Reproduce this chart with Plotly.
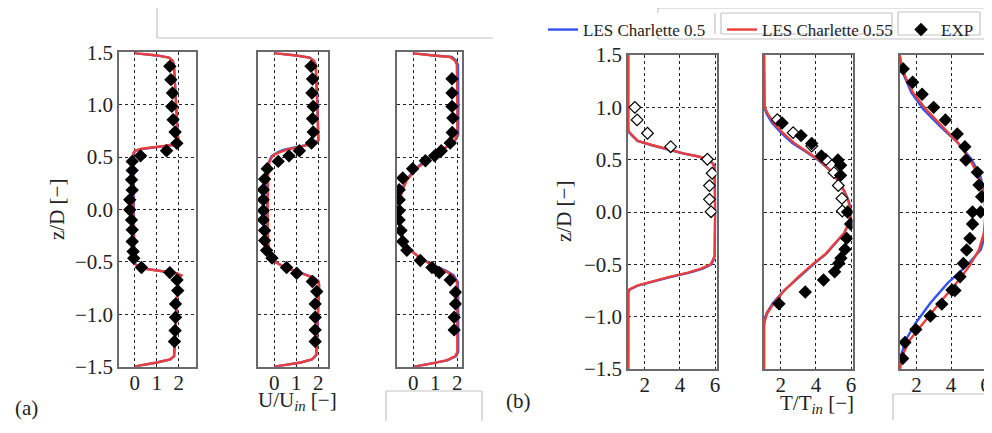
import plotly.graph_objects as go

# ---------------- data ----------------
Z_TICKS = [-1.5, -1.0, -0.5, 0.0, 0.5, 1.0, 1.5]
U_TICKS = [0, 1, 2]
T_TICKS = [2, 4, 6]
U_RANGES = [[-0.72, 2.77], [-0.74, 2.45], [-0.74, 2.2]]
T_RANGE = [1.04, 6.08]
Z_RANGE = [-1.5, 1.5]

LEGEND_NAMES = ["LES Charlette 0.5", "LES Charlette 0.55", "EXP"]

# panel 1 (velocity, station 1)
p1_z = [1.50, 1.49, 1.47, 1.45, 1.42, 1.38, 1.20, 1.00, 0.80, 0.66, 0.63, 0.615, 0.60, 0.58, 0.56, 0.53, 0.45, 0.00,
        -0.45, -0.52, -0.55, -0.57, -0.59, -0.61, -0.63, -0.66, -0.80, -1.00, -1.20, -1.40, -1.43, -1.46, -1.49, -1.50]
p1_red = [0.00, 0.10, 1.00, 1.55, 1.72, 1.77, 1.82, 1.86, 1.92, 1.97, 1.98, 1.70, 1.00, 0.30, 0.00, -0.08, -0.10, -0.08,
          -0.04, 0.00, 0.15, 0.60, 1.30, 1.90, 2.12, 1.98, 1.92, 1.88, 1.84, 1.78, 1.60, 1.00, 0.20, 0.00]
p1_blue = [0.00, 0.10, 1.00, 1.55, 1.72, 1.78, 1.83, 1.87, 1.93, 1.98, 1.99, 1.75, 1.10, 0.40, 0.02, -0.06, -0.08, -0.06,
           -0.02, 0.02, 0.18, 0.65, 1.35, 1.92, 2.10, 1.99, 1.93, 1.89, 1.85, 1.79, 1.62, 1.00, 0.20, 0.00]
p1_exp_z = [1.366, 1.239, 1.111, 0.984, 0.857, 0.739, 0.631, 0.561, 0.512, 0.459, 0.373, 0.284, 0.185, 0.093, -0.003,
            -0.099, -0.194, -0.306, -0.401, -0.465, -0.554, -0.602, -0.672, -0.774, -0.901, -1.028, -1.155, -1.26]
p1_exp_u = [1.59, 1.64, 1.71, 1.68, 1.74, 1.83, 1.91, 1.44, 0.26, -0.12, -0.12, -0.15, -0.12, -0.23, -0.23,
            -0.15, -0.12, -0.12, -0.08, -0.05, 0.30, 1.59, 1.92, 1.95, 1.85, 1.85, 1.83, 1.80]

# panel 2 (velocity, station 2)
p2_z = [1.50, 1.49, 1.47, 1.45, 1.42, 1.38, 1.00, 0.70, 0.66, 0.63, 0.61, 0.59, 0.57, 0.55, 0.53, 0.51, 0.45, 0.35, 0.00,
        -0.30, -0.40, -0.46, -0.50, -0.53, -0.56, -0.59, -0.62, -0.65, -0.68, -0.72, -1.00, -1.30, -1.39, -1.43, -1.46,
        -1.48, -1.50]
p2_red = [0.00, 0.10, 1.00, 1.60, 1.80, 1.88, 1.95, 2.00, 2.00, 1.85, 1.40, 0.90, 0.55, 0.30, 0.05, -0.08, -0.22, -0.28,
          -0.30, -0.28, -0.22, -0.10, 0.05, 0.30, 0.60, 1.00, 1.35, 1.75, 1.98, 2.03, 1.98, 1.93, 1.90, 1.70, 1.20, 0.60,
          0.00]
p2_blue = [0.00, 0.10, 1.00, 1.60, 1.80, 1.89, 1.96, 2.01, 2.01, 1.80, 1.30, 0.80, 0.45, 0.20, 0.00, -0.12, -0.25,
           -0.31, -0.32, -0.30, -0.24, -0.12, 0.03, 0.28, 0.60, 1.02, 1.40, 1.80, 2.00, 2.04, 1.99, 1.94, 1.91, 1.72,
           1.20, 0.60, 0.00]
p2_exp_z = [1.366, 1.245, 1.111, 0.984, 0.866, 0.739, 0.634, 0.561, 0.512, 0.459, 0.389, 0.29, 0.188, 0.093, -0.01,
            -0.099, -0.2, -0.296, -0.39, -0.464, -0.554, -0.608, -0.687, -0.783, -0.901, -1.028, -1.149, -1.26]
p2_exp_u = [1.67, 1.74, 1.71, 1.77, 1.74, 1.77, 1.69, 1.14, 0.67, 0.18, -0.32, -0.44, -0.50, -0.50, -0.50,
            -0.50, -0.44, -0.44, -0.35, -0.10, 0.56, 1.02, 1.73, 1.93, 1.86, 1.86, 1.86, 1.86]

# panel 3 (velocity, station 3)
p3_z = [1.50, 1.49, 1.47, 1.455, 1.42, 1.38, 1.00, 0.71, 0.65, 0.60, 0.54, 0.47, 0.395, 0.28, 0.17, 0.06, -0.05, -0.18,
        -0.29, -0.385, -0.465, -0.53, -0.58, -0.625, -0.69, -0.80, -1.36, -1.40, -1.44, -1.47, -1.50]
p3_red = [0.00, 0.05, 0.90, 1.68, 1.90, 1.98, 2.00, 2.00, 1.86, 1.53, 1.08, 0.62, 0.17, -0.29, -0.52, -0.62, -0.64,
          -0.59, -0.44, -0.14, 0.32, 0.85, 1.38, 1.76, 1.98, 2.00, 2.00, 1.90, 1.50, 0.80, 0.05]
p3_blue = [0.00, 0.05, 0.95, 1.75, 1.95, 2.03, 2.05, 2.04, 1.88, 1.52, 1.05, 0.58, 0.13, -0.33, -0.55, -0.64, -0.66,
           -0.61, -0.46, -0.15, 0.33, 0.90, 1.45, 1.82, 2.02, 2.04, 2.04, 1.95, 1.55, 0.80, 0.05]
p3_exp_z = [1.248, 1.111, 0.984, 0.872, 0.735, 0.634, 0.561, 0.512, 0.465, 0.389, 0.300, 0.188, 0.093, -0.010, -0.099,
            -0.200, -0.306, -0.390, -0.486, -0.554, -0.602, -0.672, -0.789, -0.901, -1.028, -1.149]
p3_exp_u = [1.76, 1.76, 1.76, 1.80, 1.77, 1.68, 1.27, 0.97, 0.55, -0.03, -0.48, -0.64, -0.64, -0.64, -0.64,
            -0.56, -0.48, -0.29, 0.32, 0.85, 1.18, 1.68, 1.92, 1.92, 1.86, 1.86]

# panel 4 (temperature, station 1)
p4_z = [1.50, 0.79, 0.76, 0.72, 0.68, 0.64, 0.60, 0.56, 0.53, 0.50, 0.46, 0.42, 0.00, -0.42, -0.46, -0.50, -0.54,
        -0.58, -0.62, -0.66, -0.70, -0.74, -0.77, -1.50]
p4_red = [1.05, 1.05, 1.12, 1.35, 1.60, 2.40, 3.30, 4.20, 5.05, 5.60, 5.88, 5.97, 6.00, 5.97, 5.87, 5.75, 5.20, 4.45,
          3.40, 2.45, 1.60, 1.12, 1.05, 1.05]
p4_blue = [1.05, 1.05, 1.10, 1.32, 1.58, 2.35, 3.25, 4.15, 5.05, 5.62, 5.90, 5.98, 6.01, 5.98, 5.90, 5.80, 5.30, 4.55,
           3.50, 2.52, 1.65, 1.15, 1.06, 1.05]
p4_open_z = [1.0, 0.88, 0.752, 0.624, 0.504, 0.37, 0.252, 0.121, 0.003]
p4_open_t = [1.43, 1.56, 2.15, 3.47, 5.56, 5.83, 5.68, 5.68, 5.77]

# panel 5 (temperature, station 2)
p5_z = [1.50, 1.08, 1.00, 0.94, 0.85, 0.75, 0.66, 0.58, 0.50, 0.40, 0.30, 0.20, 0.10, 0.00, -0.10, -0.20, -0.30, -0.40,
        -0.50, -0.62, -0.75, -0.87, -0.97, -1.05, -1.10, -1.50]
p5_red = [1.04, 1.04, 1.08, 1.25, 1.60, 2.15, 2.75, 3.45, 4.15, 4.80, 5.25, 5.60, 5.85, 5.98, 5.88, 5.60, 5.10, 4.55,
          3.80, 3.00, 2.20, 1.60, 1.22, 1.07, 1.04, 1.04]
p5_blue = [1.04, 1.04, 1.06, 1.18, 1.50, 2.05, 2.65, 3.38, 4.10, 4.78, 5.25, 5.62, 5.88, 6.00, 5.90, 5.62, 5.12, 4.58,
           3.85, 3.02, 2.18, 1.55, 1.18, 1.05, 1.04, 1.04]
p5_open_z = [0.883, 0.758, 0.631, 0.50, 0.376, 0.253, 0.13, 0.01]
p5_open_t = [1.80, 2.70, 3.76, 4.57, 5.03, 5.27, 5.48, 5.50]
p5_fill_z = [0.85, 0.73, 0.655, 0.535, 0.497, 0.446, 0.35, 0.0, -0.115, -0.252, -0.357, -0.441, -0.49, -0.572, -0.65,
             -0.764, -0.877]
p5_fill_t = [2.07, 3.15, 3.76, 4.31, 5.25, 5.40, 5.40, 5.80, 5.97, 5.75, 5.65, 5.42, 5.30, 5.06, 4.43, 3.39, 1.89]

# panel 6 (temperature, station 3)
p6_z = [1.50, 1.45, 1.30, 1.14, 0.98, 0.82, 0.66, 0.50, 0.34, 0.18, 0.00, -0.20, -0.36, -0.52, -0.68, -0.87, -1.06,
        -1.22, -1.35, -1.45, -1.50]
p6_red = [1.02, 1.08, 1.33, 1.80, 2.55, 3.45, 4.40, 5.10, 5.60, 5.88, 6.00, 5.90, 5.62, 5.05, 4.30, 3.33, 2.38, 1.62,
          1.24, 1.07, 1.04]
p6_blue = [1.02, 1.07, 1.28, 1.70, 2.40, 3.35, 4.40, 5.20, 5.70, 5.95, 6.03, 6.00, 5.72, 4.86, 3.80, 2.80, 1.95, 1.38,
           1.14, 1.05, 1.04]
p6_fill_z = [1.367, 1.24, 1.125, 1.0, 0.88, 0.746, 0.624, 0.497, 0.379, 0.258, 0.146, 0.0, 0.0, -0.115, -0.252, -0.363,
             -0.491, -0.618, -0.745, -0.75, -0.88, -0.994, -1.122, -1.246, -1.399]
p6_fill_t = [1.23, 1.77, 2.32, 2.99, 3.67, 4.36, 4.80, 4.86, 5.52, 5.62, 5.77, 5.24, 5.71, 5.24, 5.09, 4.90, 4.71,
             4.52, 4.05, 4.22, 3.46, 2.80, 1.96, 1.33, 1.20]

# ---------------- styling / layout ----------------
W, H = 992, 433
OFF = 8  # default page body margin of the html page
BLUE = "rgb(52,82,240)"
RED = "rgb(236,62,56)"
FONT = "Liberation Serif"


def px(x):
    return (x - OFF) / W


def py(y):
    return 1 - (y - OFF) / H


fig = go.Figure()

panels = [
    (1, p1_z, p1_blue, p1_red, [(p1_exp_u, p1_exp_z, True)]),
    (2, p2_z, p2_blue, p2_red, [(p2_exp_u, p2_exp_z, True)]),
    (3, p3_z, p3_blue, p3_red, [(p3_exp_u, p3_exp_z, True)]),
    (4, p4_z, p4_blue, p4_red, [(p4_open_t, p4_open_z, False)]),
    (5, p5_z, p5_blue, p5_red, [(p5_open_t, p5_open_z, False), (p5_fill_t, p5_fill_z, True)]),
    (6, p6_z, p6_blue, p6_red, [(p6_fill_t, p6_fill_z, True)]),
]

exp_legend_done = False
for i, z, blue, red, exps in panels:
    xa = "x" if i == 1 else f"x{i}"
    ya = "y" if i == 1 else f"y{i}"
    fig.add_trace(go.Scatter(x=blue, y=z, mode="lines", line=dict(color=BLUE, width=2.4),
                             name=LEGEND_NAMES[0], legendgroup="b", showlegend=(i == 1),
                             xaxis=xa, yaxis=ya))
    fig.add_trace(go.Scatter(x=red, y=z, mode="lines", line=dict(color=RED, width=2.4),
                             name=LEGEND_NAMES[1], legendgroup="r", showlegend=(i == 1),
                             xaxis=xa, yaxis=ya))
    for ex, ez, filled in exps:
        show = filled and not exp_legend_done
        if show:
            exp_legend_done = True
        fig.add_trace(go.Scatter(
            x=ex, y=ez, mode="markers", name=LEGEND_NAMES[2], legendgroup="e", showlegend=show,
            marker=dict(symbol="diamond", size=9,
                        color="black" if filled else "white",
                        line=dict(color="black", width=1.2)),
            xaxis=xa, yaxis=ya))

# axis scale is the same for the three velocity panels (22 px per unit)
U_PX0 = {1: 119, 2: 258, 3: 397}
U_PX_PER_UNIT = 22.0
x_dom_px = {i: (U_PX0[i], U_PX0[i] + (U_RANGES[i - 1][1] - U_RANGES[i - 1][0]) * U_PX_PER_UNIT) for i in (1, 2, 3)}
x_dom_px.update({4: (628, 716.5), 5: (764, 852.5), 6: (900, 987)})
y_dom_px = {1: (52.3, 366.7), 2: (52.3, 366.7), 3: (52.3, 366.7),
            4: (55, 369), 5: (55, 369), 6: (55, 369)}

axis_common = dict(showgrid=True, gridcolor="#222", griddash="dot", gridwidth=1,
                   showline=True, mirror=True, linecolor="#6a6a6a", linewidth=1.5,
                   zeroline=False, ticks="", automargin=False,
                   tickfont=dict(family=FONT, size=21, color="#222"))

for i in range(1, 7):
    xk = "xaxis" if i == 1 else f"xaxis{i}"
    yk = "yaxis" if i == 1 else f"yaxis{i}"
    xa = "x" if i == 1 else f"x{i}"
    ya = "y" if i == 1 else f"y{i}"
    x0, x1 = x_dom_px[i]
    y0, y1 = y_dom_px[i]
    left = i <= 3
    fig.layout[xk] = dict(axis_common, domain=[px(x0), px(x1)], anchor=ya,
                          range=U_RANGES[i - 1] if left else T_RANGE,
                          tickvals=U_TICKS if left else T_TICKS,
                          ticklabelstandoff=-4)
    fig.layout[yk] = dict(axis_common, domain=[py(y1), py(y0)], anchor=xa,
                          range=Z_RANGE, tickvals=Z_TICKS, tickformat=".1f",
                          showticklabels=(i in (1, 4)))

ann_font = dict(family=FONT, size=21, color="#222")
annotations = [
    dict(text="z/D [\u2212]", x=px(57), y=py(210), textangle=-90),
    dict(text="z/D [\u2212]", x=px(564), y=py(212), textangle=-90),
    dict(text="U/U<sub><i>in</i></sub> [\u2212]", x=px(297), y=py(401)),
    dict(text="T/T<sub><i>in</i></sub> [\u2212]", x=px(817), y=py(404)),
    dict(text="(a)", x=px(26), y=py(408)),
    dict(text="(b)", x=px(518), y=py(401)),
]
for a in annotations:
    a.update(xref="paper", yref="paper", showarrow=False, font=ann_font,
             xanchor="center", yanchor="middle")

GRAY = "#c4c4c4"


def seg(xa_, ya_, xb_, yb_):
    return dict(type="line", xref="paper", yref="paper", x0=px(xa_), y0=py(ya_), x1=px(xb_), y1=py(yb_),
                line=dict(color=GRAY, width=1.2), layer="below")


shapes = [
    seg(157, 8, 157, 38), seg(157, 38, 493, 38),
    seg(658, 8, 992, 8), seg(658, 39, 992, 39), seg(658, 8, 658, 13), seg(658, 34, 658, 39),
    seg(715, 13, 715, 34),
    seg(721, 13, 892, 13), seg(721, 34, 892, 34), seg(721, 13, 721, 34), seg(892, 13, 892, 34),
    seg(898, 12, 980, 12), seg(898, 35, 980, 35), seg(898, 12, 898, 35), seg(980, 12, 980, 35),
    seg(386, 391, 482, 391), seg(386, 391, 386, 421), seg(482, 391, 482, 421),
    seg(893, 394, 992, 394), seg(893, 394, 893, 420),
]

fig.update_layout(
    width=W, height=H, margin=dict(l=0, r=0, t=0, b=0, autoexpand=False),
    paper_bgcolor="white", plot_bgcolor="white",
    annotations=annotations, shapes=shapes,
    legend=dict(orientation="h", x=px(543), y=py(12), xanchor="left", yanchor="top",
                bgcolor="rgba(0,0,0,0)", font=dict(family=FONT, size=17, color="#222"),
                itemwidth=30, entrywidth=134, entrywidthmode="pixels"),
    showlegend=True,
)

fig.write_html("out.html")
